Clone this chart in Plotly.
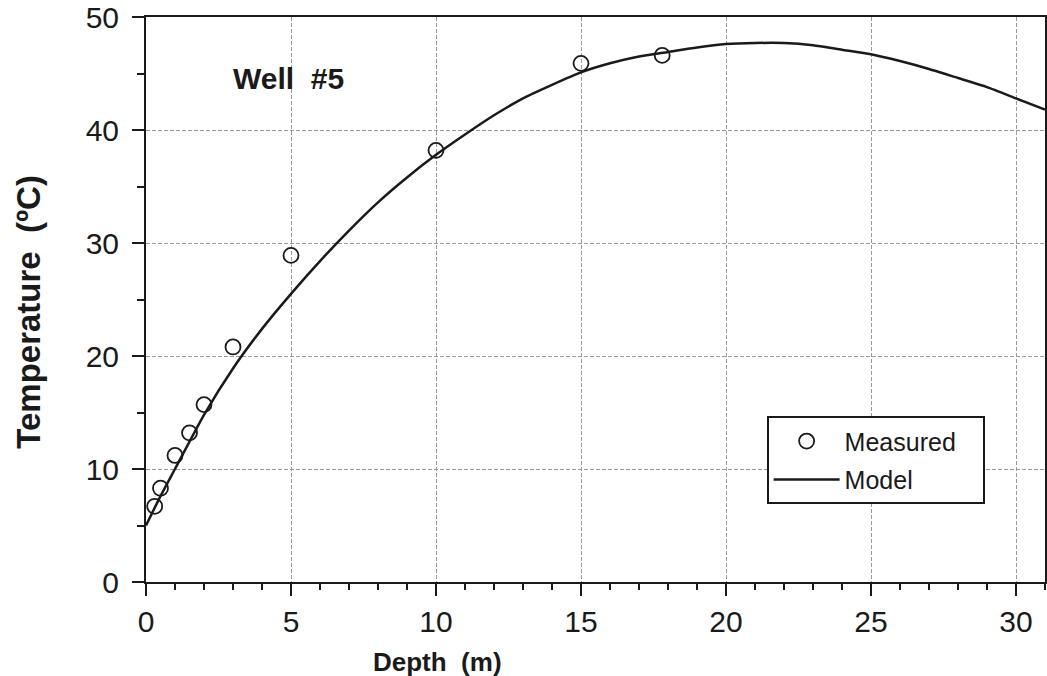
import plotly.graph_objects as go

# Measured data (Well #5)
depth_measured = [0.3, 0.5, 1.0, 1.5, 2.0, 3.0, 5.0, 10.0, 15.0, 17.8]
temp_measured = [6.7, 8.3, 11.2, 13.2, 15.7, 20.8, 28.9, 38.2, 45.9, 46.6]

# Model curve
depth_model = [0, 0.5, 1, 2, 3, 4, 5, 6, 7, 8, 9, 10, 11, 12, 13, 14, 15, 16,
               17, 18, 19, 20, 21, 22, 23, 24, 25, 26, 27, 28, 29, 30, 31]
temp_model = [5.0, 7.6, 10.0, 14.8, 18.9, 22.4, 25.5, 28.4, 31.1, 33.6, 35.8,
              37.8, 39.6, 41.3, 42.8, 44.0, 45.1, 45.9, 46.5, 46.9, 47.3, 47.6,
              47.7, 47.7, 47.5, 47.1, 46.7, 46.1, 45.4, 44.6, 43.8, 42.8, 41.8]

x_ticks = [0, 5, 10, 15, 20, 25, 30]
y_ticks = [0, 10, 20, 30, 40, 50]

FONT = "Liberation Sans, Arial, Helvetica, sans-serif"
INK = "#1a1a1a"

# plot-area pixel box, used to place axis titles
PL, PR, PT, PB = 146, 1047, 16, 582
def paper(px, py):
    return (px - PL) / (PR - PL), (PB - py) / (PB - PT)

fig = go.Figure()
fig.add_trace(go.Scatter(
    x=depth_model, y=temp_model, mode="lines", name="Model",
    line=dict(color=INK, width=2.5, shape="spline", smoothing=0.6),
    legendrank=2, legendgroup="b"))
fig.add_trace(go.Scatter(
    x=depth_measured, y=temp_measured, mode="markers", name="Measured&nbsp;&nbsp;&nbsp;",
    marker=dict(symbol="circle-open", size=15, color=INK, line=dict(width=1.8, color=INK)),
    legendrank=1, legendgroup="a"))

xt_x, xt_y = paper(438, 662)
yt_x, yt_y = paper(28, 311)

fig.update_layout(
    width=1047, height=676,
    margin=dict(l=PL, r=1047 - PR, t=PT, b=676 - PB),
    paper_bgcolor="white", plot_bgcolor="white",
    font=dict(family=FONT, color=INK),
    showlegend=True,
    legend=dict(
        x=paper(768, 0)[0], y=paper(0, 416)[1], xanchor="left", yanchor="top",
        bgcolor="white", bordercolor=INK, borderwidth=2,
        font=dict(size=25, family=FONT, color=INK),
        itemwidth=66, traceorder="grouped", tracegroupgap=3,
    ),
    xaxis=dict(
        range=[0, 31], tickvals=x_ticks, ticktext=[str(v) for v in x_ticks],
        showline=True, linecolor=INK, linewidth=2, mirror=True,
        ticks="outside", ticklen=12, tickwidth=2, tickcolor=INK,
        tickfont=dict(size=30, family=FONT, color=INK),
        ticklabeloverflow="allow",
        showgrid=True, gridcolor="#9a9a9a", gridwidth=1, griddash="4px,2px",
        zeroline=False,
        minor=dict(dtick=1, tick0=0, ticks="outside", ticklen=6, tickwidth=2,
                   tickcolor=INK, showgrid=False),
    ),
    yaxis=dict(
        range=[0, 50], tickvals=y_ticks, ticktext=[str(v) for v in y_ticks],
        showline=True, linecolor=INK, linewidth=2, mirror=True,
        ticks="outside", ticklen=12, tickwidth=2, tickcolor=INK,
        tickfont=dict(size=30, family=FONT, color=INK),
        ticklabeloverflow="allow", ticklabelstandoff=7,
        showgrid=True, gridcolor="#9a9a9a", gridwidth=1, griddash="4px,2px",
        zeroline=False,
        minor=dict(dtick=5, tick0=0, ticks="outside", ticklen=7, tickwidth=2,
                   tickcolor=INK, showgrid=False),
    ),
    annotations=[
        dict(text="<b>Well  #5</b>", x=4.93, y=44.6, xref="x", yref="y",
             showarrow=False, font=dict(size=30, family=FONT, color=INK)),
        dict(text="<b>Depth  (m)</b>", x=xt_x, y=xt_y, xref="paper", yref="paper",
             xanchor="center", yanchor="middle",
             showarrow=False, font=dict(size=26, family=FONT, color=INK)),
        dict(text="<b>Temperature  (ºC)</b>", x=yt_x, y=yt_y, xref="paper", yref="paper",
             xanchor="center", yanchor="middle", textangle=-90,
             showarrow=False, font=dict(size=33, family=FONT, color=INK)),
    ],
)

fig.write_html("out.html")
